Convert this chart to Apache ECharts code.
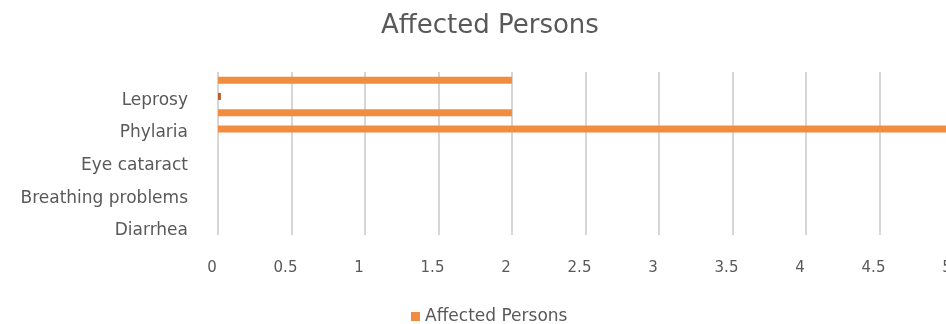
<!DOCTYPE html>
<html>
<head>
<meta charset="utf-8">
<script src="https://cdn.jsdelivr.net/npm/echarts@6/dist/echarts.min.js"></script>
<style>
  html, body { margin: 0; padding: 0; background: #fff; }
  #main { width: 946px; height: 324px; }
</style>
</head>
<body>
<div id="main"></div>
<script>
// rows from bottom to top, the 3D chart puts a bar between every labelled row
var categories = ['Diarrhea', '', 'Breathing problems', '', 'Eye cataract', '', 'Phylaria', '', 'Leprosy', ''];
var affected = [0, 0, 0, 0, 0, 0, 6, 2, 0.02, 2];
var xTicks = [0, 0.5, 1, 1.5, 2, 2.5, 3, 3.5, 4, 4.5, 5];

var txt = '#595959';
var font = 'DejaVu Sans';
var chart = echarts.init(document.getElementById('main'));

chart.setOption({
  animation: false,
  title: {
    text: 'Affected Persons',
    left: 376,
    top: 8,
    textStyle: { fontFamily: font, fontSize: 26, fontWeight: 'normal', color: txt }
  },
  legend: {
    top: 303,
    left: 406,
    itemWidth: 9,
    itemHeight: 9,
    icon: 'rect',
    textStyle: { fontFamily: font, fontSize: 17, color: txt }
  },
  grid: { left: 218, top: 72, width: 735, height: 163, outerBoundsMode: 'none' },
  xAxis: {
    type: 'value',
    min: 0,
    max: 5,
    interval: 0.5,
    axisLine: { show: false },
    axisTick: { show: false },
    splitLine: { lineStyle: { color: '#d6d6d6', width: 2 } },
    axisLabel: {
      margin: 26,
      formatter: function (v) { return xTicks.indexOf(v) >= 0 ? String(v) : ''; },
      fontFamily: font, fontSize: 15, color: txt,
      padding: [0, 12, 0, 0]
    }
  },
  yAxis: {
    type: 'category',
    data: categories,
    axisLine: { show: false },
    axisTick: { show: false },
    axisLabel: {
      interval: 0,
      margin: 30,
      fontFamily: font, fontSize: 17, color: txt,
      verticalAlign: 'top',
      lineHeight: 8
    }
  },
  series: [{
    name: 'Affected Persons',
    type: 'bar',
    barWidth: 7,
    itemStyle: { color: '#F28C3F' },
    data: affected.map(function (v) {
      return v > 0 && v < 0.1 ? { value: v, itemStyle: { color: '#B8632B' } } : v;
    })
  }]
});
</script>
</body>
</html>
